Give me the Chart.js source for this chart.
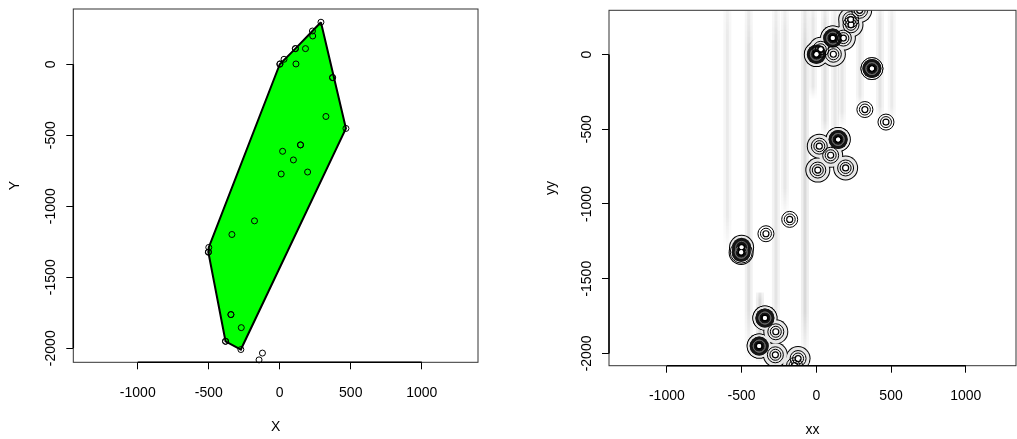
<!DOCTYPE html>
<html>
<head>
<meta charset="utf-8">
<script src="https://cdn.jsdelivr.net/npm/chart.js@4/dist/chart.umd.min.js"></script>
<style>
body{margin:0;background:#fff;width:1017px;height:439px;overflow:hidden;position:relative}
canvas{position:absolute;top:0}
#left{left:0}
#right{left:508px}
</style>
</head>
<body>
<canvas id="left" width="508" height="439"></canvas>
<canvas id="right" width="509" height="439"></canvas>
<script>
// sample points, duplicates kept
const ptX = [290, 230, 232, 110, 110, 181, 30, 0, 2, 114, 372, 372, 325, 466, 146, 146, 20, 96, 10, 196,
  -178, -337, -500, -502, -503, -344, -344, -271, -382, -382, -274, -122, -146];
const ptY = [296, 234, 199, 110, 110, 110, 35, 0, 3, 2, -94, -94, -368, -452, -568, -568, -613, -674, -773, -759,
  -1103, -1199, -1290, -1322, -1324, -1763, -1763, -1855, -1951, -1951, -2009, -2034, -2082];

// convex hull vertices (left panel polygon)
const hullX = [290, 466, -274, -382, -503, -500, 0, 110, 230, 290];
const hullY = [296, -452, -2009, -1951, -1324, -1290, 0, 110, 234, 296];

// tick labels
const xTicks = [-1000, -500, 0, 500, 1000];
const yTicks = [-2000, -1500, -1000, -500, 0];

// faint vertical bands of the density image (right panel)
const streakX   = [-595, -452, -377, -270, -210, -76, -22, 58, 125, 172, 292, 426, 505];
const streakTop = [296, 296, -1592, 296, 296, 296, 296, 296, 296, 296, 296, 296, 296];
const streakBot = [-1325, -2062, -2062, -2000, -1102, -2082, -300, -568, -600, -500, -367, -458, -458];
const streakA   = [0.06, 0.09, 0.11, 0.08, 0.07, 0.11, 0.07, 0.09, 0.07, 0.07, 0.07, 0.08, 0.06];

Chart.defaults.font.family = '"Liberation Sans", Arial, sans-serif';
Chart.defaults.font.size = 14;
Chart.defaults.color = '#000';
Chart.defaults.animation = false;
Chart.defaults.plugins.legend.display = false;
Chart.defaults.plugins.tooltip.enabled = false;

const pts = ptX.map((x, i) => ({x: x, y: ptY[i]}));

// how many points sit (nearly) on the same spot, and whether a point has a close neighbour
const mult = pts.map(p => pts.filter(q => Math.hypot(q.x - p.x, q.y - p.y) < 34).length);
const linked = pts.map(p => pts.some(q => {
  const d = Math.hypot(q.x - p.x, q.y - p.y);
  return d >= 34 && d < 150;
}));
const dup = i => mult[i] > 1;

// box round the plot region + R style axis line between the outer ticks
const frame = {
  id: 'frame',
  afterDraw(chart) {
    const {ctx, chartArea: a, scales} = chart;
    ctx.save();
    ctx.strokeStyle = '#333';
    ctx.lineWidth = 1;
    ctx.strokeRect(a.left, a.top, a.right - a.left, a.bottom - a.top);
    ctx.strokeStyle = '#000';
    ctx.lineWidth = 1.5;
    ctx.beginPath();
    ctx.moveTo(scales.x.getPixelForValue(xTicks[0]), a.bottom);
    ctx.lineTo(scales.x.getPixelForValue(xTicks[xTicks.length - 1]), a.bottom);
    ctx.moveTo(a.left, scales.y.getPixelForValue(yTicks[0]));
    ctx.lineTo(a.left, scales.y.getPixelForValue(yTicks[yTicks.length - 1]));
    ctx.stroke();
    ctx.restore();
  }
};

function axes(cfg) {
  return {
    x: {
      type: 'linear', min: cfg.xmin, max: cfg.xmax,
      afterBuildTicks: s => { s.ticks = xTicks.map(v => ({value: v})); },
      afterFit: s => { s.height = cfg.xh; },
      grid: {drawOnChartArea: false, drawTicks: true, tickLength: 7, color: '#000'},
      border: {display: false},
      ticks: {callback: v => String(v), padding: 15, maxRotation: 0, font: {size: 14}},
      title: {display: true, text: cfg.xt, font: {size: 14}, padding: {top: 0, bottom: cfg.xtp}}
    },
    y: {
      type: 'linear', min: cfg.ymin, max: cfg.ymax,
      afterBuildTicks: s => { s.ticks = yTicks.map(v => ({value: v})); },
      afterFit: s => { s.width = cfg.yw; },
      grid: {drawOnChartArea: false, drawTicks: true, tickLength: 7, color: '#000'},
      border: {display: false},
      ticks: {callback: v => String(v), padding: -3, minRotation: 90, maxRotation: 90, crossAlign: 'center', font: {size: 14}},
      title: {display: true, text: cfg.yt, font: {size: 14}, padding: {top: cfg.ytp, bottom: 0}}
    }
  };
}

// left panel: points + green convex hull
new Chart(document.getElementById('left'), {
  type: 'scatter',
  data: {
    datasets: [
      {data: pts, pointRadius: 3, pointBorderWidth: 1, pointBorderColor: '#000',
       pointBackgroundColor: 'rgba(0,0,0,0)', clip: false, order: 0},
      {data: hullX.map((x, i) => ({x: x, y: hullY[i]})), showLine: true, fill: 'shape',
       backgroundColor: '#00ff00', borderColor: '#000', borderWidth: 2, pointRadius: 0, tension: 0, order: 1}
    ]
  },
  options: {
    responsive: false,
    layout: {autoPadding: false, padding: {top: 9, right: 30, left: 0, bottom: 0}},
    scales: axes({xmin: -1454, xmax: 1396, ymin: -2099, ymax: 389, xh: 76.7, yw: 73.3,
      xt: 'X', yt: 'Y', xtp: 3.7, ytp: 7})
  },
  plugins: [frame]
});

// right panel: density image bands, contour rings, points
const rightSets = [];
function bandColor(i, k) {
  return c => {
    const ch = c.chart;
    if (!ch.chartArea) return 'rgba(0,0,0,0)';
    const t = ch.scales.y.getPixelForValue(streakTop[i]);
    const b = ch.scales.y.getPixelForValue(streakBot[i]);
    const g = ch.ctx.createLinearGradient(0, t, 0, b);
    const a = streakA[i] * k;
    g.addColorStop(0, 'rgba(0,0,0,' + (a * 0.6) + ')');
    g.addColorStop(0.1, 'rgba(0,0,0,' + a + ')');
    g.addColorStop(0.85, 'rgba(0,0,0,' + a + ')');
    g.addColorStop(1, 'rgba(0,0,0,0)');
    return g;
  };
}
streakX.forEach((x, i) => {
  const line = [{x: x, y: streakTop[i]}, {x: x, y: streakBot[i]}];
  rightSets.push({type: 'line', data: line, borderWidth: 8, pointRadius: 0, clip: 0, order: 21,
    borderColor: bandColor(i, 0.6)});
  rightSets.push({type: 'line', data: line, borderWidth: 3, pointRadius: 0, clip: 0, order: 20,
    borderColor: bandColor(i, 0.8)});
});
function ring(order, r, border, fill, width) {
  return {data: pts, order: order, clip: 0,
    pointRadius: r, pointHoverRadius: r, pointBorderWidth: width,
    pointBorderColor: border, pointBackgroundColor: fill};
}
const none = 'rgba(0,0,0,0)';
// outline of merged contours around neighbouring points
rightSets.push(ring(9, c => linked[c.dataIndex] ? 12.5 : 0, '#000', '#000', 0));
rightSets.push(ring(8, c => linked[c.dataIndex] ? 11.5 : 0, none, '#e8e8e8', 0));
// peaks of duplicated points
rightSets.push(ring(7, c => dup(c.dataIndex) && !linked[c.dataIndex] ? 11 : 0, '#000', '#fff', 1));
rightSets.push(ring(6, c => dup(c.dataIndex) ? 9.5 : 0, none, '#151515', 0));
rightSets.push(ring(5, c => dup(c.dataIndex) ? 6 : 0, '#666', none, 1));
// single peaks
rightSets.push(ring(4, c => dup(c.dataIndex) ? 0 : 8, '#000', none, 1));
rightSets.push(ring(3, c => dup(c.dataIndex) ? 0 : 5.5, '#000', none, 1));
rightSets.push(ring(2, 3, '#000', none, 1.2));
// points in white
rightSets.push(ring(1, 2, '#fff', '#fff', 0));

new Chart(document.getElementById('right'), {
  type: 'scatter',
  data: {datasets: rightSets},
  options: {
    responsive: false,
    layout: {autoPadding: false, padding: {top: 10.3, right: 1, left: 0, bottom: 0}},
    scales: axes({xmin: -1387, xmax: 1336, ymin: -2082, ymax: 296, xh: 73.3, yw: 101,
      xt: 'xx', yt: 'yy', xtp: 0, ytp: 34.6})
  },
  plugins: [frame]
});
</script>
</body>
</html>
